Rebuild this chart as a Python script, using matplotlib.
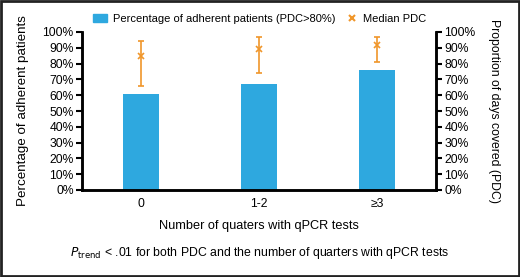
import matplotlib.pyplot as plt
from matplotlib.patches import Patch, Rectangle
from matplotlib.lines import Line2D
from matplotlib.ticker import PercentFormatter

categories = ['0', '1-2', '≥3']
adherent_pct = [61, 67, 76]
median_pdc = [85, 89, 92]
pdc_low = [66, 74, 81]
pdc_high = [94, 97, 97]

blue = '#2EA8DF'
orange = '#F0962A'
plt.rcParams['font.family'] = ['Liberation Sans', 'DejaVu Sans']

fig = plt.figure(figsize=(5.2, 2.77), dpi=100)
ax = fig.add_axes([82 / 520, 1 - 190 / 277, 354 / 520, 158 / 277])
ax2 = ax.twinx()

x = list(range(len(categories)))
ax.bar(x, adherent_pct, width=0.31, color=blue, zorder=2)

err_lo = [m - l for m, l in zip(median_pdc, pdc_low)]
err_hi = [h - m for m, h in zip(median_pdc, pdc_high)]
ax2.errorbar(x, median_pdc, yerr=[err_lo, err_hi], fmt='x', color=orange,
             ecolor=orange, elinewidth=1.2, capsize=2, markersize=4, mew=1.2)

for a in (ax, ax2):
    a.set_ylim(0, 100)
    a.set_yticks(range(0, 101, 10))
    a.yaxis.set_major_formatter(PercentFormatter(decimals=0))
    a.spines['top'].set_visible(False)
    for s in a.spines.values():
        s.set_linewidth(1.8)
    a.tick_params(axis='y', labelsize=8.7, width=1.5, length=4, pad=2)
ax.set_xlim(-0.5, 2.5)
ax.set_xticks(x)
ax.set_xticklabels(categories)
ax.tick_params(axis='x', length=0, labelsize=8.7, pad=6)

ax.set_ylabel('Percentage of adherent patients', fontsize=9.6, labelpad=10)
ax2.set_ylabel('Proportion of days covered (PDC)', fontsize=8.8,
               rotation=270, labelpad=18)
ax.set_xlabel('Number of quaters with qPCR tests', fontsize=9.2, labelpad=7)

# two separate legend pieces so the gap between them matches the reference
leg_y = 1 - 19 / 277
fig.legend([Patch(color=blue)], ['Percentage of adherent patients (PDC>80%)'],
           loc='center left', bbox_to_anchor=(93 / 520, leg_y), frameon=False,
           fontsize=8.0, handlelength=1.3, handleheight=0.8, handletextpad=0.5,
           borderpad=0, borderaxespad=0)
fig.legend([Line2D([], [], marker='x', color=orange, ls='', markersize=5, mew=1.5)],
           ['Median PDC'], loc='center left', bbox_to_anchor=(345 / 520, leg_y),
           frameon=False, fontsize=8.0, handlelength=1.3, handletextpad=0.3,
           borderpad=0, borderaxespad=0)

fig.text(260 / 520, 1 - 253 / 277,
         r'$P_{\mathrm{trend}}$ < .01 for both PDC and the number of quarters with qPCR tests',
         ha='center', va='center', fontsize=8.8)

fig.patches.append(Rectangle((0.002, 0.003), 0.996, 0.994, transform=fig.transFigure,
                             fill=False, edgecolor='#222222', linewidth=2))

fig.savefig('out.png', dpi=100)
